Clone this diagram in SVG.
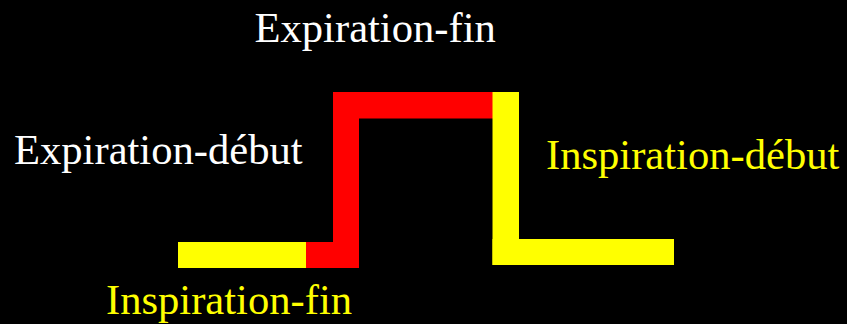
<svg xmlns="http://www.w3.org/2000/svg" width="847" height="324" viewBox="0 0 847 324">
<style>
.t{font-family:"Liberation Serif","Times New Roman",serif;font-size:42.6px}
.w{fill:#ffffff}
.y{fill:#ffff00}
.r{fill:#ff0000}
</style>
<rect x="0" y="0" width="847" height="324" fill="#000000"/>
<g id="wave">
<rect class="y" x="178" y="242" width="128" height="26"/>
<rect class="r" x="306" y="242" width="53" height="26"/>
<rect class="r" x="333" y="92" width="26" height="176"/>
<rect class="r" x="333" y="92" width="160" height="26.5"/>
<rect class="y" x="492.5" y="92" width="26.5" height="173"/>
<rect class="y" x="492.5" y="239" width="181.5" height="26"/>
</g>
<g id="labels">
<text class="t w" x="254.5" y="41.5">Expiration-fin</text>
<text class="t w" x="14" y="163.5">Expiration-début</text>
<text class="t y" x="546" y="168.5">Inspiration-début</text>
<text class="t y" x="106" y="313.5">Inspiration-fin</text>
</g>
</svg>
